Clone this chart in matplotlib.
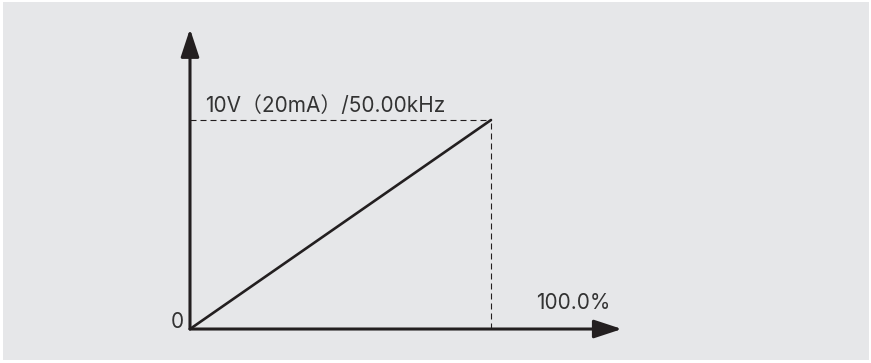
import matplotlib.pyplot as plt
from matplotlib.patches import Rectangle

# percent of input vs output frequency (kHz)
input_pct = [0, 100.0]
output_khz = [0, 50.0]

top_label = "10V（20mA）/50.00kHz"
right_label = "100.0%"
origin_label = "0"

ink = '#231f20'
text_col = '#333333'
bg = '#e6e7e9'

plt.rcParams['font.family'] = ['Inter', 'Noto Sans CJK SC', 'DejaVu Sans']

fig = plt.figure(figsize=(8.71, 3.63), dpi=100, facecolor='white')
fig.add_artist(Rectangle((3 / 871, 3 / 363), 866 / 871, 358 / 363,
                         transform=fig.transFigure, facecolor=bg,
                         edgecolor='none', zorder=-1))

ax = fig.add_axes([0, 0, 1, 1])
ax.patch.set_alpha(0)
ax.set_xlim(-63.12, 226.25)
ax.set_ylim(-8.13, 78.71)
ax.axis('off')

# axes with arrow heads
arrow = dict(arrowstyle='-|>,head_length=17,head_width=5.6', lw=2.2,
             color=ink, shrinkA=0, shrinkB=0, mutation_scale=1)
ax.annotate('', xy=(0, 71.8), xytext=(0, 0), arrowprops=arrow)
ax.annotate('', xy=(143.5, 0), xytext=(0, 0), arrowprops=arrow)

# dashed guides
x_max, y_max = input_pct[-1], output_khz[-1]
ax.plot([0, x_max], [y_max, y_max], color=ink, lw=0.8, dashes=(5.4, 3.6))
ax.plot([x_max, x_max], [0, y_max], color=ink, lw=0.8, dashes=(5.4, 3.6))

# the ramp
ax.plot(input_pct, output_khz, color=ink, lw=1.9, solid_capstyle='round')

ax.text(5.0, 51.9, top_label, fontsize=15, color=text_col, va='baseline')
ax.text(115.0, 4.8, right_label, fontsize=15, color=text_col, va='baseline')
ax.text(-2.0, 0.3, origin_label, fontsize=15, color=text_col,
        ha='right', va='baseline')

fig.savefig('out.png', dpi=100)
